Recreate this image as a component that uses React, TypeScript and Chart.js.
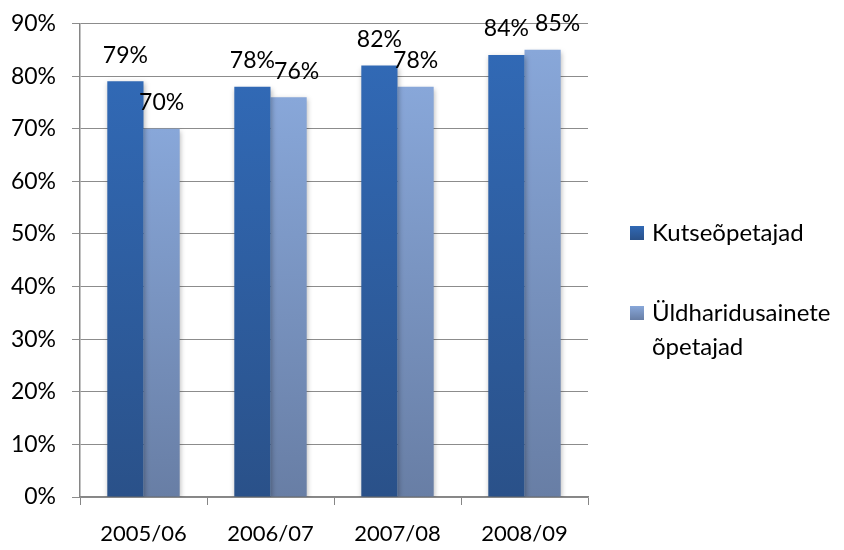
import React, { useEffect, useRef } from "react";
import { Chart, registerables } from "chart.js";

Chart.register(...registerables);

const categories = ["2005/06", "2006/07", "2007/08", "2008/09"];
const seriesNames = ["Kutseõpetajad", "Üldharidusainete õpetajad"];
const legendLines = [["Kutseõpetajad"], ["Üldharidusainete", "õpetajad"]];
const kutseopetajad = [79, 78, 82, 84];
const yldharidus = [70, 76, 78, 85];
const yMin = 0;
const yMax = 90;
const yStep = 10;

const FONT = "Lato, 'Open Sans', sans-serif";
const FONT_SIZE = 23;
const X_FONT_SIZE = 22;
const LEGEND_FONT_SIZE = 24;
const topColors = ["#3169b5", "#88a7d9"];
const bottomColors = ["#2a5189", "#687ea5"];
// manual label nudges (dataset-index) as placed in the original chart
const labelNudges: Record<string, number> = { "1-1": 8, "1-3": 15 };

function gradientFor(idx: number) {
  return (ctx: any) => {
    const chart = ctx.chart;
    const area = chart.chartArea;
    const y = chart.scales && chart.scales.y;
    if (!area || !y || ctx.raw == null) return topColors[idx];
    const top = y.getPixelForValue(ctx.raw);
    const bottom = y.getPixelForValue(0);
    const g = chart.ctx.createLinearGradient(0, top, 0, bottom);
    g.addColorStop(0, topColors[idx]);
    g.addColorStop(1, bottomColors[idx]);
    return g;
  };
}

const shadowPlugin = {
  id: "barShadow",
  beforeDatasetsDraw(chart: any) {
    const c = chart.ctx;
    c.save();
    c.shadowColor = "rgba(0,0,0,0.28)";
    c.shadowBlur = 5;
    c.shadowOffsetX = 1;
    c.shadowOffsetY = 2;
  },
  afterDatasetsDraw(chart: any) {
    chart.ctx.restore();
  },
};

const valueLabelsPlugin = {
  id: "valueLabels",
  afterDatasetsDraw(chart: any) {
    const c = chart.ctx;
    c.save();
    c.font = `${FONT_SIZE}px ${FONT}`;
    c.fillStyle = "#000";
    c.textAlign = "center";
    c.textBaseline = "middle";
    chart.data.datasets.forEach((ds: any, i: number) => {
      chart.getDatasetMeta(i).data.forEach((bar: any, j: number) => {
        const dx = labelNudges[`${i}-${j}`] || 0;
        c.fillText(`${ds.data[j]}%`, bar.x + dx, bar.y - 26);
      });
    });
    c.restore();
  },
};

const legendPlugin = {
  id: "sideLegend",
  afterDraw(chart: any) {
    const c = chart.ctx;
    const area = chart.chartArea;
    const boxX = area.right + 42;
    const textX = boxX + 22;
    const itemCenters = [233, 313];
    const lineGap = 34;
    c.save();
    c.font = `${LEGEND_FONT_SIZE}px ${FONT}`;
    c.textAlign = "left";
    c.textBaseline = "middle";
    legendLines.forEach((lines, i) => {
      const cy = itemCenters[i];
      const g = c.createLinearGradient(0, cy - 7, 0, cy + 7);
      g.addColorStop(0, topColors[i]);
      g.addColorStop(1, bottomColors[i]);
      c.fillStyle = g;
      c.fillRect(boxX, cy - 7, 14, 14);
      c.fillStyle = "#000";
      lines.forEach((ln, k) => c.fillText(ln, textX, cy + k * lineGap));
    });
    c.restore();
  },
};

export default function App() {
  const ref = useRef<HTMLCanvasElement | null>(null);
  useEffect(() => {
    if (!ref.current) return;
    const chart = new Chart(ref.current, {
      type: "bar",
      data: {
        labels: categories,
        datasets: [
          {
            label: seriesNames[0],
            data: kutseopetajad,
            backgroundColor: gradientFor(0),
            categoryPercentage: 0.57,
            barPercentage: 1,
          },
          {
            label: seriesNames[1],
            data: yldharidus,
            backgroundColor: gradientFor(1),
            categoryPercentage: 0.57,
            barPercentage: 1,
          },
        ],
      },
      options: {
        responsive: false,
        animation: false,
        devicePixelRatio: 1,
        layout: { padding: { left: 8, top: 23.5, right: 256, bottom: 0 } },
        plugins: {
          legend: { display: false },
          tooltip: { enabled: false },
        },
        scales: {
          x: {
            afterFit: (axis: any) => {
              axis.height = 53;
              axis.paddingLeft = 0;
              axis.paddingRight = 0;
            },
            grid: {
              offset: true,
              drawOnChartArea: false,
              drawTicks: true,
              tickLength: 8,
              color: "#868686",
            },
            border: { color: "#868686", width: 1.5 },
            ticks: {
              color: "#000",
              padding: 16,
              font: { family: FONT, size: X_FONT_SIZE },
            },
          },
          y: {
            min: yMin,
            max: yMax,
            afterFit: (axis: any) => {
              axis.width = 72;
              axis.paddingTop = 0;
              axis.paddingBottom = 0;
            },
            grid: {
              color: "#8c8c8c",
              lineWidth: 1,
              tickLength: 8,
            },
            border: { color: "#868686", width: 1.5 },
            ticks: {
              stepSize: yStep,
              color: "#000",
              padding: 16,
              font: { family: FONT, size: FONT_SIZE },
              callback: (v: any) => `${v}%`,
            },
          },
        },
      },
      plugins: [shadowPlugin, valueLabelsPlugin, legendPlugin],
    });
    return () => chart.destroy();
  }, []);
  return (
    <div style={{ position: "fixed", left: 0, top: 0, width: 844, height: 550, background: "#fff" }}>
      <canvas ref={ref} width={844} height={550} style={{ display: "block" }} />
    </div>
  );
}
